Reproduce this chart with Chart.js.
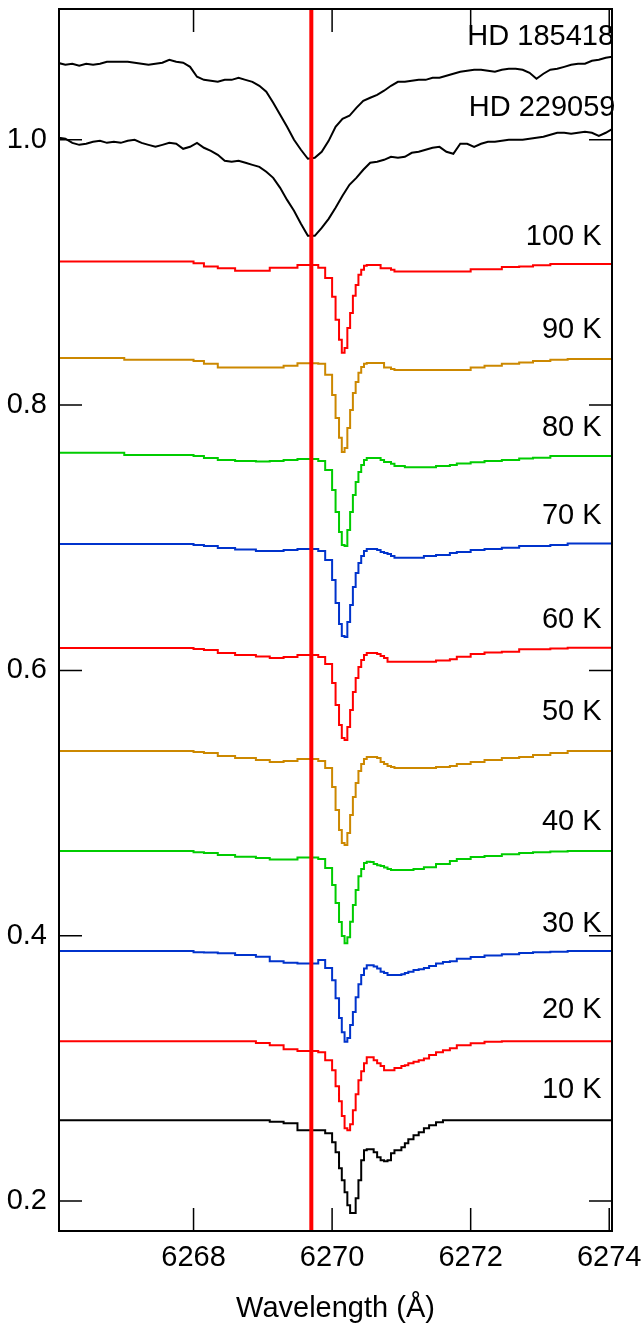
<!DOCTYPE html>
<html><head><meta charset="utf-8">
<script src="https://cdn.jsdelivr.net/npm/chart.js@4.4.1/dist/chart.umd.min.js"></script>
<style>html,body{margin:0;padding:0;background:#fff;}#c{display:block;}</style>
</head><body>
<canvas id="c" width="642" height="1335"></canvas>
<script>
// ---------- data ----------
const xTicks = [6268, 6270, 6272, 6274];
const yTicks = [0.2, 0.4, 0.6, 0.8, 1.0];
const markerWavelength = 6269.70;

const obsX = [6266.05,6266.15,6266.25,6266.35,6266.45,6266.55,6266.65,6266.75,6266.85,6266.95,
6267.05,6267.15,6267.25,6267.35,6267.45,6267.55,6267.65,6267.75,6267.85,6267.95,
6268.05,6268.15,6268.25,6268.35,6268.45,6268.55,6268.65,6268.75,6268.85,6268.95,
6269.05,6269.15,6269.25,6269.35,6269.45,6269.55,6269.65,6269.75,6269.85,6269.95,
6270.05,6270.15,6270.25,6270.35,6270.45,6270.55,6270.65,6270.75,6270.85,6270.95,
6271.05,6271.15,6271.25,6271.35,6271.45,6271.55,6271.65,6271.75,6271.85,6271.95,
6272.05,6272.15,6272.25,6272.35,6272.45,6272.55,6272.65,6272.75,6272.85,6272.95,
6273.05,6273.15,6273.25,6273.35,6273.45,6273.55,6273.65,6273.75,6273.85,6273.95,6274.05];

const hd185418 = [1.0579,1.0566,1.0573,1.0558,1.0573,1.0566,1.0573,1.0588,1.0588,1.0588,
1.0588,1.0581,1.0573,1.0566,1.0573,1.0581,1.0603,1.0588,1.0581,1.0550,
1.0475,1.0452,1.0445,1.0437,1.0452,1.0452,1.0468,1.0452,1.0437,1.0407,
1.0362,1.0279,1.0188,1.0098,1.0000,0.9925,0.9857,0.9864,0.9910,0.9992,
1.0098,1.0158,1.0181,1.0241,1.0294,1.0317,1.0339,1.0370,1.0407,1.0437,
1.0437,1.0445,1.0452,1.0452,1.0468,1.0468,1.0483,1.0498,1.0513,1.0520,
1.0528,1.0528,1.0520,1.0513,1.0528,1.0535,1.0535,1.0528,1.0505,1.0460,
1.0498,1.0528,1.0535,1.0550,1.0566,1.0573,1.0573,1.0596,1.0603,1.0618,1.0626];

const hd229059 = [1.0015,1.0008,0.9977,0.9962,0.9970,0.9985,0.9993,0.9977,0.9985,0.9977,
0.9993,1.0000,0.9977,0.9962,0.9947,0.9962,0.9977,0.9970,0.9932,0.9947,
0.9977,0.9940,0.9917,0.9887,0.9842,0.9834,0.9842,0.9827,0.9811,0.9796,
0.9759,0.9713,0.9638,0.9547,0.9465,0.9367,0.9276,0.9276,0.9336,0.9404,
0.9487,0.9578,0.9661,0.9713,0.9774,0.9827,0.9834,0.9849,0.9872,0.9864,
0.9872,0.9902,0.9910,0.9925,0.9940,0.9947,0.9910,0.9895,0.9970,0.9970,
0.9947,0.9970,0.9985,0.9985,0.9993,1.0000,1.0000,1.0000,1.0008,1.0015,
1.0023,1.0038,1.0053,1.0053,1.0045,1.0053,1.0060,1.0053,1.0030,1.0053,1.0083];

const modelX = [6266.05,6267.0,6268.0,6268.15,6268.35,6268.6,6268.9,6269.1,6269.3,6269.5,6269.65,6269.8,6269.9,
6270.0,6270.05,6270.1,6270.14,6270.18,6270.22,6270.26,6270.3,6270.34,6270.38,6270.42,6270.46,6270.5,
6270.55,6270.6,6270.65,6270.7,6270.75,6270.8,6270.85,6270.9,
6271.0,6271.05,6271.1,6271.175,6271.25,6271.325,6271.4,6271.5,6271.6,6271.7,
6271.8,6272.0,6272.2,6272.45,6272.7,6272.9,6273.15,6273.4,6273.7,6274.05];

const k100 = [0.9082,0.9082,0.9082,0.9070,0.9045,0.9032,0.9012,0.9012,0.9035,0.9035,0.9057,0.9057,0.9035,
0.8959,0.8816,0.8643,0.8492,0.8394,0.8431,0.8582,0.8695,0.8824,0.8906,0.8982,0.9020,0.9050,
0.9057,0.9057,0.9057,0.9057,0.9032,0.9032,0.9032,0.9020,
0.9008,0.9008,0.9008,0.9008,0.9008,0.9008,0.9008,0.9008,0.9008,0.9008,
0.9008,0.9008,0.9025,0.9025,0.9042,0.9045,0.9054,0.9063,0.9063,0.9063];
const k90 = [0.8356,0.8356,0.8341,0.8333,0.8311,0.8283,0.8283,0.8283,0.8283,0.8296,0.8316,0.8316,0.8311,
0.8228,0.8077,0.7903,0.7753,0.7647,0.7677,0.7828,0.7964,0.8092,0.8175,0.8243,0.8288,0.8311,
0.8318,0.8318,0.8318,0.8318,0.8318,0.8283,0.8283,0.8273,
0.8265,0.8265,0.8265,0.8265,0.8265,0.8265,0.8265,0.8265,0.8265,0.8265,
0.8265,0.8265,0.8284,0.8296,0.8311,0.8322,0.8333,0.8341,0.8348,0.8348];
const k80 = [0.7640,0.7640,0.7624,0.7617,0.7602,0.7587,0.7579,0.7575,0.7579,0.7587,0.7594,0.7594,0.7579,
0.7511,0.7360,0.7195,0.7044,0.6946,0.6938,0.7059,0.7195,0.7323,0.7421,0.7496,0.7549,0.7587,
0.7602,0.7602,0.7602,0.7602,0.7587,0.7572,0.7572,0.7557,
0.7541,0.7541,0.7532,0.7532,0.7532,0.7532,0.7532,0.7532,0.7541,0.7541,
0.7549,0.7560,0.7569,0.7579,0.7587,0.7598,0.7604,0.7617,0.7617,0.7617];
const k70 = [0.6953,0.6953,0.6953,0.6946,0.6938,0.6923,0.6912,0.6900,0.6900,0.6908,0.6916,0.6916,0.6900,
0.6833,0.6682,0.6508,0.6350,0.6259,0.6252,0.6365,0.6493,0.6629,0.6735,0.6810,0.6863,0.6900,
0.6916,0.6916,0.6916,0.6908,0.6893,0.6885,0.6878,0.6863,
0.6850,0.6850,0.6850,0.6850,0.6850,0.6850,0.6863,0.6863,0.6870,0.6870,
0.6885,0.6893,0.6908,0.6916,0.6925,0.6938,0.6938,0.6946,0.6956,0.6956];
const k60 = [0.6169,0.6169,0.6169,0.6161,0.6154,0.6131,0.6116,0.6105,0.6094,0.6101,0.6116,0.6116,0.6101,
0.6048,0.5905,0.5739,0.5588,0.5490,0.5475,0.5573,0.5701,0.5837,0.5943,0.6026,0.6078,0.6116,
0.6131,0.6131,0.6131,0.6124,0.6109,0.6094,0.6066,0.6066,
0.6066,0.6066,0.6066,0.6066,0.6066,0.6066,0.6066,0.6066,0.6075,0.6075,
0.6084,0.6103,0.6124,0.6135,0.6141,0.6159,0.6159,0.6165,0.6171,0.6171];
const k50 = [0.5392,0.5392,0.5392,0.5385,0.5377,0.5354,0.5339,0.5324,0.5309,0.5317,0.5332,0.5332,0.5317,
0.5264,0.5121,0.4947,0.4796,0.4698,0.4683,0.4774,0.4910,0.5045,0.5151,0.5241,0.5294,0.5332,
0.5347,0.5347,0.5347,0.5339,0.5309,0.5294,0.5279,0.5271,
0.5264,0.5264,0.5264,0.5264,0.5264,0.5264,0.5264,0.5264,0.5271,0.5271,
0.5279,0.5294,0.5309,0.5324,0.5339,0.5347,0.5362,0.5377,0.5392,0.5392];
const k40 = [0.4638,0.4638,0.4638,0.4630,0.4623,0.4608,0.4595,0.4585,0.4575,0.4575,0.4589,0.4590,0.4578,
0.4510,0.4382,0.4246,0.4103,0.3997,0.3944,0.3989,0.4105,0.4231,0.4344,0.4449,0.4502,0.4548,
0.4557,0.4555,0.4540,0.4532,0.4525,0.4515,0.4502,0.4495,
0.4495,0.4495,0.4495,0.4495,0.4502,0.4502,0.4517,0.4517,0.4540,0.4540,
0.4563,0.4578,0.4593,0.4600,0.4615,0.4623,0.4630,0.4634,0.4638,0.4638];
const k30 = [0.3884,0.3884,0.3884,0.3876,0.3873,0.3867,0.3854,0.3841,0.3808,0.3796,0.3790,0.3791,0.3816,
0.3756,0.3665,0.3529,0.3379,0.3273,0.3200,0.3228,0.3326,0.3424,0.3537,0.3635,0.3703,0.3753,
0.3778,0.3778,0.3767,0.3753,0.3728,0.3718,0.3703,0.3703,
0.3703,0.3710,0.3718,0.3729,0.3741,0.3748,0.3756,0.3771,0.3790,0.3801,
0.3808,0.3827,0.3839,0.3850,0.3861,0.3869,0.3876,0.3880,0.3884,0.3884];
const k20 = [0.3205,0.3205,0.3205,0.3205,0.3205,0.3205,0.3205,0.3192,0.3175,0.3145,0.3130,0.3130,0.3122,
0.3062,0.2986,0.2866,0.2753,0.2640,0.2549,0.2534,0.2579,0.2685,0.2805,0.2911,0.2979,0.3039,
0.3084,0.3084,0.3062,0.3039,0.3017,0.2986,0.2986,0.2986,
0.3002,0.3017,0.3024,0.3039,0.3049,0.3062,0.3075,0.3100,0.3122,0.3137,
0.3152,0.3175,0.3190,0.3201,0.3205,0.3205,0.3205,0.3205,0.3205,0.3205];
const k10 = [0.2609,0.2609,0.2609,0.2609,0.2609,0.2609,0.2609,0.2609,0.2597,0.2587,0.2534,0.2534,0.2534,
0.2511,0.2443,0.2368,0.2247,0.2157,0.2066,0.1968,0.1910,0.1910,0.2021,0.2157,0.2308,0.2383,
0.2391,0.2391,0.2368,0.2330,0.2308,0.2300,0.2308,0.2360,
0.2383,0.2406,0.2436,0.2466,0.2496,0.2519,0.2549,0.2572,0.2594,0.2609,
0.2609,0.2609,0.2609,0.2609,0.2609,0.2609,0.2609,0.2609,0.2609,0.2609];

const modelNames = ['100 K','90 K','80 K','70 K','60 K','50 K','40 K','30 K','20 K','10 K'];
const starNames = ['HD 185418','HD 229059'];

// ---------- presentation ----------
const FONT = "'Liberation Sans', Arial, sans-serif";
const FS = 29;
const modelValues = [k100,k90,k80,k70,k60,k50,k40,k30,k20,k10];
const modelColors = ['#ff0000','#cc8800','#00cc00','#0033cc','#ff0000','#cc8800','#00cc00','#0033cc','#ff0000','#000000'];
const xRange = [6266.058, 6274.04];
const yRange = [0.1774, 1.0986];
// label anchors (right-aligned text) in data coordinates
const starLabelPos = [[6274.07, 1.0777],[6274.09, 1.0241]];
const modelLabelPos = [[6273.89,0.9268],[6273.89,0.8567],[6273.89,0.7828],[6273.89,0.7164],[6273.89,0.6380],
  [6273.89,0.5686],[6273.89,0.4857],[6273.89,0.4087],[6273.89,0.3439],[6273.89,0.2836]];

const pts = (xs, ys) => xs.map((x, i) => ({x: x, y: ys[i]}));

const datasets = [];
datasets.push({label:'marker', data:[{x:markerWavelength,y:yRange[0]-0.01},{x:markerWavelength,y:yRange[1]+0.01}],
  borderColor:'#ff0000', borderWidth:4, pointRadius:0, borderCapStyle:'butt'});
modelValues.forEach((v, i) => datasets.push({label:modelNames[i], data:pts(modelX, v), stepped:'after',
  borderColor:modelColors[i], borderWidth:2, pointRadius:0, fill:false}));
[hd185418, hd229059].forEach((v, i) => datasets.push({label:starNames[i], data:pts(obsX, v),
  borderColor:'#000000', borderWidth:2, pointRadius:0, tension:0, fill:false}));

const decor = {
  id:'decor',
  afterDatasetsDraw(chart){
    const ctx = chart.ctx, a = chart.chartArea, xs = chart.scales.x, ys = chart.scales.y;
    ctx.save();
    ctx.strokeStyle = '#000'; ctx.lineWidth = 2;
    ctx.strokeRect(a.left, a.top, a.right - a.left, a.bottom - a.top);
    ctx.lineWidth = 1.5;
    const L = 23;
    ctx.beginPath();
    xTicks.forEach(v => { const p = xs.getPixelForValue(v);
      ctx.moveTo(p, a.bottom); ctx.lineTo(p, a.bottom - L);
      ctx.moveTo(p, a.top); ctx.lineTo(p, a.top + L); });
    yTicks.forEach(v => { const p = ys.getPixelForValue(v);
      ctx.moveTo(a.left, p); ctx.lineTo(a.left + L, p);
      ctx.moveTo(a.right, p); ctx.lineTo(a.right - L, p); });
    ctx.stroke();
    ctx.fillStyle = '#000'; ctx.font = FS + 'px ' + FONT;
    ctx.textAlign = 'right'; ctx.textBaseline = 'middle';
    starNames.forEach((t, i) => ctx.fillText(t, xs.getPixelForValue(starLabelPos[i][0]), ys.getPixelForValue(starLabelPos[i][1])));
    modelNames.forEach((t, i) => ctx.fillText(t, xs.getPixelForValue(modelLabelPos[i][0]), ys.getPixelForValue(modelLabelPos[i][1])));
    ctx.restore();
  }
};

new Chart(document.getElementById('c'), {
  type:'line',
  data:{datasets},
  options:{
    responsive:false, animation:false, events:[],
    layout:{padding:{top:9, right:30, bottom:0, left:0}},
    plugins:{legend:{display:false}, tooltip:{enabled:false}},
    scales:{
      x:{type:'linear', min:xRange[0], max:xRange[1],
        grid:{display:false, drawTicks:false}, border:{display:false},
        afterBuildTicks:s => { s.ticks = xTicks.map(v => ({value:v})); },
        afterFit:s => { s.height = 104; s.paddingLeft = 0; s.paddingRight = 0; },
        ticks:{padding:10, color:'#000', font:{family:FONT, size:FS}, maxRotation:0, autoSkip:false,
          callback:v => String(Math.round(v))},
        title:{display:true, text:'Wavelength (Å)', color:'#000', font:{family:FONT, size:FS}, padding:{top:0,bottom:9}}
      },
      y:{type:'linear', min:yRange[0], max:yRange[1],
        grid:{display:false, drawTicks:false}, border:{display:false},
        afterBuildTicks:s => { s.ticks = yTicks.map(v => ({value:v})); },
        afterFit:s => { s.width = 59; s.paddingTop = 0; s.paddingBottom = 0; },
        ticks:{padding:12, color:'#000', font:{family:FONT, size:FS}, autoSkip:false,
          callback:v => Number(v).toFixed(1)}
      }
    }
  },
  plugins:[decor]
});
</script>
</body></html>
